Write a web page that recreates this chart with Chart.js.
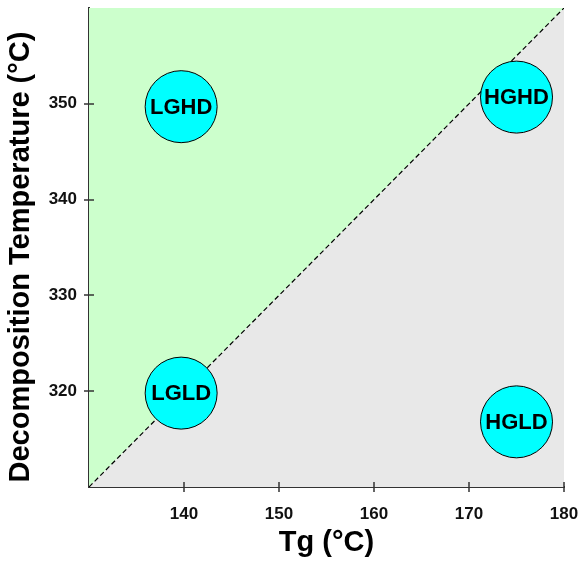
<!DOCTYPE html>
<html>
<head>
<meta charset="utf-8">
<script src="https://cdn.jsdelivr.net/npm/chart.js@4/dist/chart.umd.min.js"></script>
<style>
  html, body { margin: 0; padding: 0; background: #fff; }
  #wrap { width: 583px; height: 562px; }
</style>
</head>
<body>
<div id="wrap"><canvas id="mapa" width="583" height="562"></canvas></div>
<script>
// datos
const categories = ['LGHD', 'HGHD', 'LGLD', 'HGLD'];
const tgValues = [139.7, 175.0, 139.7, 175.0];
const decompValues = [349.7, 350.7, 319.8, 316.8];
const xTicks = [140, 150, 160, 170, 180];
const yTicks = [320, 330, 340, 350];
const boundaryTg = [130, 180];
const boundaryDecomp = [310, 360];

const FONT = "'Liberation Sans', Arial, sans-serif";

const puntos = categories.map((c, i) => ({ x: tgValues[i], y: decompValues[i] }));
const diagonal = boundaryTg.map((t, i) => ({ x: t, y: boundaryDecomp[i] }));

// quita el relleno automatico que Chart.js deja para las etiquetas extremas
function sinRelleno(s) {
  s.paddingTop = 0;
  s.paddingBottom = 0;
  s.paddingLeft = 0;
  s.paddingRight = 0;
}

// marcas de tick que cruzan el eje (hacia dentro y hacia fuera)
const tickMarks = {
  id: 'tickMarks',
  afterDraw(chart) {
    const { ctx, chartArea, scales } = chart;
    ctx.save();
    ctx.strokeStyle = '#333';
    ctx.lineWidth = 1.5;
    ctx.beginPath();
    xTicks.forEach(v => {
      const px = Math.round(scales.x.getPixelForValue(v));
      ctx.moveTo(px, chartArea.bottom - 5);
      ctx.lineTo(px, chartArea.bottom + 5);
    });
    yTicks.forEach(v => {
      const py = Math.round(scales.y.getPixelForValue(v));
      ctx.moveTo(chartArea.left - 5, py);
      ctx.lineTo(chartArea.left + 5, py);
    });
    ctx.stroke();
    ctx.restore();
  }
};

// etiquetas dentro de los circulos
const bubbleLabels = {
  id: 'bubbleLabels',
  afterDatasetsDraw(chart) {
    const { ctx } = chart;
    const meta = chart.getDatasetMeta(0);
    ctx.save();
    ctx.font = 'bold 22px ' + FONT;
    ctx.fillStyle = '#000';
    ctx.textAlign = 'center';
    ctx.textBaseline = 'middle';
    meta.data.forEach((pt, i) => {
      ctx.fillText(categories[i], pt.x, pt.y + 1);
    });
    ctx.restore();
  }
};

// titulo del eje Y
const yTitle = {
  id: 'yTitle',
  afterDraw(chart) {
    const { ctx } = chart;
    ctx.save();
    ctx.translate(21, 257);
    ctx.rotate(-Math.PI / 2);
    ctx.font = 'bold 29px ' + FONT;
    ctx.fillStyle = '#000';
    ctx.textAlign = 'center';
    ctx.textBaseline = 'middle';
    ctx.fillText('Decomposition Temperature (°C)', 0, 0);
    ctx.restore();
  }
};

new Chart(document.getElementById('mapa').getContext('2d'), {
  type: 'scatter',
  data: {
    datasets: [
      {
        label: 'Muestras',
        data: puntos,
        pointRadius: 36,
        pointHoverRadius: 36,
        backgroundColor: '#00ffff',
        borderColor: '#000',
        borderWidth: 1,
        clip: false,
        order: 0
      },
      {
        type: 'line',
        label: 'Limite',
        data: diagonal,
        borderColor: '#000',
        borderWidth: 1.2,
        borderDash: [5, 3],
        pointRadius: 0,
        backgroundColor: '#e8e8e8',
        fill: 'start',
        order: 1
      },
      {
        type: 'line',
        label: 'Zona alta',
        data: diagonal,
        borderWidth: 0,
        borderColor: 'rgba(0,0,0,0)',
        pointRadius: 0,
        backgroundColor: '#ccffcc',
        fill: 'end',
        order: 2
      }
    ]
  },
  options: {
    responsive: false,
    animation: false,
    events: [],
    layout: { autoPadding: false, padding: { top: 8, right: 19, left: 0, bottom: 0 } },
    plugins: {
      legend: { display: false },
      tooltip: { enabled: false }
    },
    scales: {
      x: {
        type: 'linear',
        min: 130,
        max: 180,
        z: 1,
        afterBuildTicks: s => { s.ticks = xTicks.map(v => ({ value: v })); },
        afterFit: s => { s.height = 75; sinRelleno(s); },
        grid: { display: false, drawTicks: false },
        border: { display: true, color: '#333', width: 2 },
        ticks: {
          padding: 17,
          color: '#111',
          font: { family: FONT, size: 17, weight: 'bold' }
        },
        title: {
          display: true,
          text: 'Tg (°C)',
          color: '#000',
          padding: { top: 0, bottom: 5 },
          font: { family: FONT, size: 29, weight: 'bold', lineHeight: 1 }
        }
      },
      y: {
        type: 'linear',
        min: 310,
        max: 360,
        z: 1,
        afterBuildTicks: s => { s.ticks = yTicks.map(v => ({ value: v })); },
        afterFit: s => { s.width = 89; sinRelleno(s); },
        grid: { display: false, drawTicks: false },
        border: { display: true, color: '#333', width: 2 },
        ticks: {
          padding: 12,
          color: '#111',
          font: { family: FONT, size: 17, weight: 'bold' }
        }
      }
    }
  },
  plugins: [tickMarks, bubbleLabels, yTitle]
});
</script>
</body>
</html>
